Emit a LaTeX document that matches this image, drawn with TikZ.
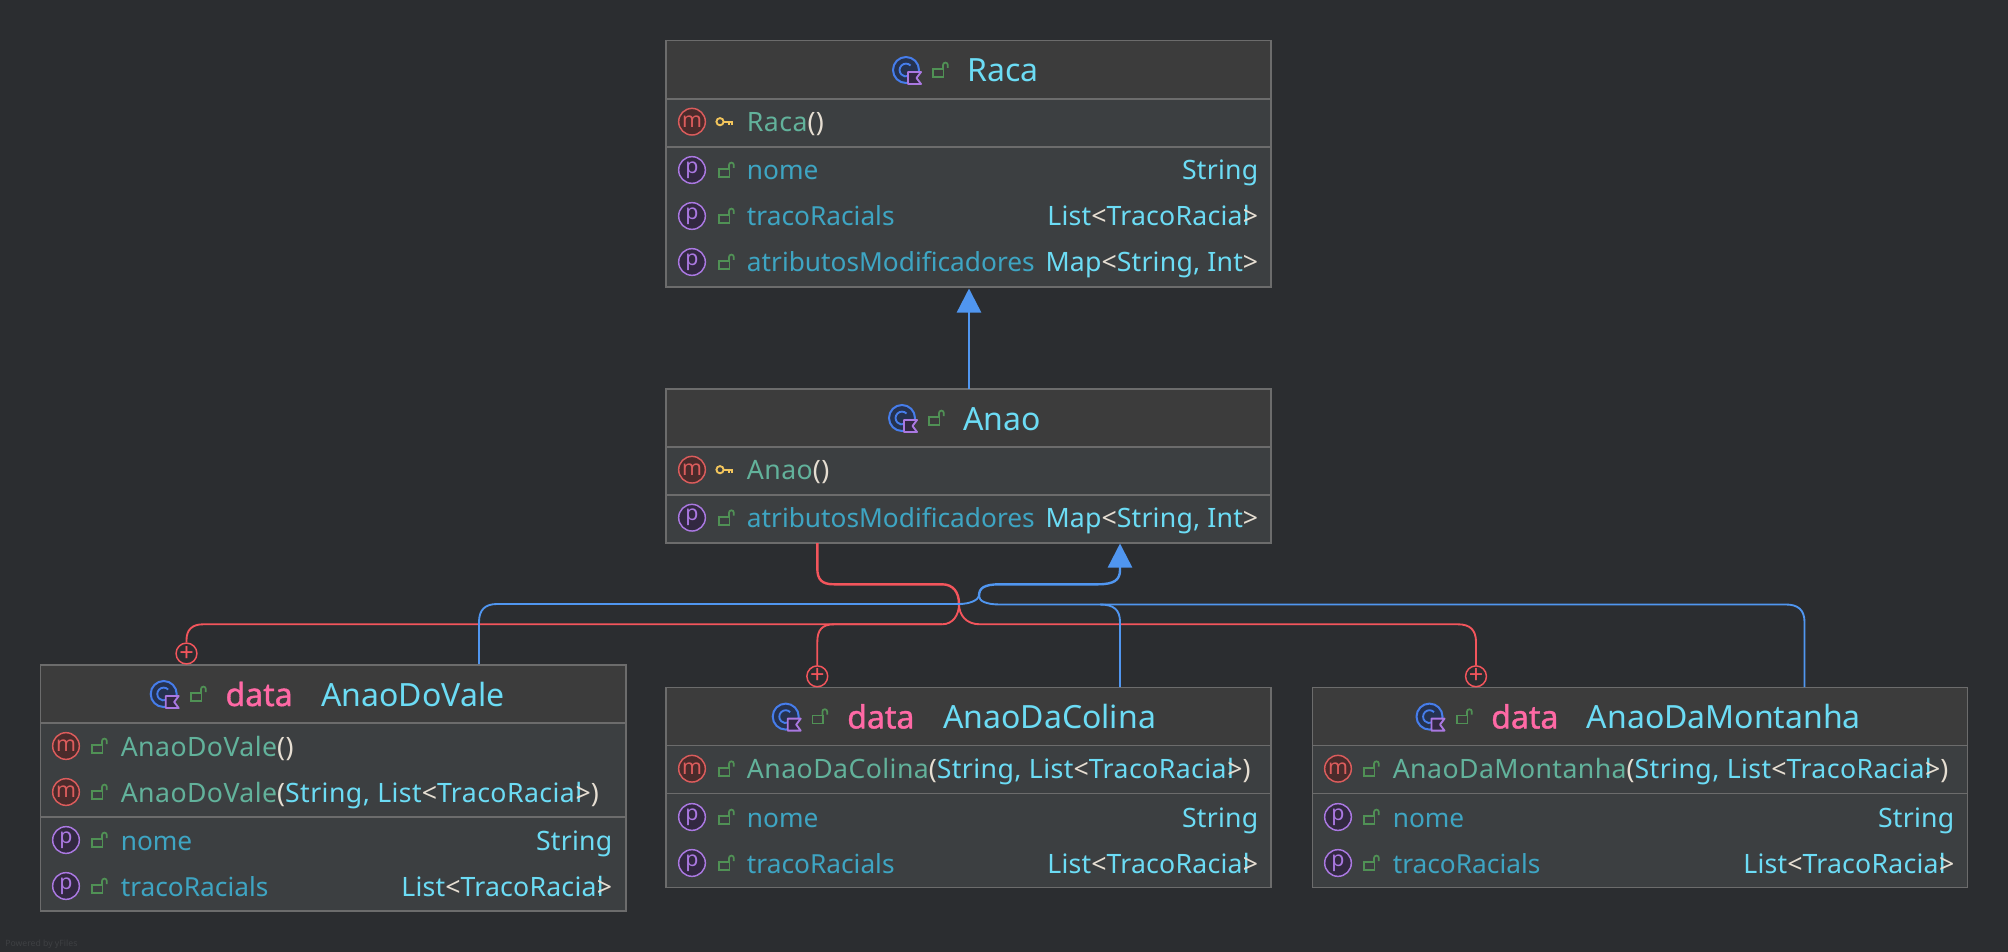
\documentclass[tikz,border=0pt]{standalone}
\usepackage{fontspec}
\setmainfont{Noto Sans}
\newfontfamily\dataface{Noto Sans}[FakeBold=1.2]
\newfontfamily\methface{Noto Sans}[LetterSpace=1.6]
\newfontfamily\typeface{Noto Sans}[LetterSpace=0.8]
\usepackage{xcolor}
\definecolor{bgdark}{RGB}{43,45,48}
\definecolor{headfill}{RGB}{60,60,60}
\definecolor{bodyfill}{RGB}{60,63,65}
\definecolor{boxline}{RGB}{108,108,108}
\definecolor{titlecol}{RGB}{108,220,245}
\definecolor{fieldcol}{RGB}{62,165,195}
\definecolor{methcol}{RGB}{98,178,155}
\definecolor{punctcol}{RGB}{230,222,210}
\definecolor{datacol}{RGB}{255,105,165}
\definecolor{redline}{RGB}{243,85,92}
\definecolor{blueline}{RGB}{80,150,240}
\definecolor{greenlock}{RGB}{80,145,85}
\definecolor{keycol}{RGB}{242,197,92}
\definecolor{purplecol}{RGB}{170,120,225}
\definecolor{classblue}{RGB}{70,125,235}
\definecolor{faintcol}{RGB}{62,64,67}
\definecolor{mstroke}{RGB}{219,92,92}
\definecolor{mfill}{RGB}{74,43,43}
\definecolor{pfill}{RGB}{50,40,65}
\definecolor{cfill}{RGB}{37,50,80}
\usetikzlibrary{arrows.meta}
\newcommand{\lstTraco}{List\textcolor{punctcol}{<}TracoRacia{l}\kern-0.25em\textcolor{punctcol}{>}}
\newcommand{\mapType}{Map\textcolor{punctcol}{<}String, Int\textcolor{punctcol}{>}}
\tikzset{
  headbox/.style={draw=boxline,fill=headfill,line width=1.2pt,anchor=north west,inner sep=0pt,outer sep=0pt},
  bodybox/.style={draw=boxline,fill=bodyfill,line width=1.2pt,anchor=north west,inner sep=0pt,outer sep=0pt},
  titletext/.style={anchor=base west,inner sep=0pt,text=titlecol,font=\fontsize{24}{24}\selectfont},
  datatext/.style={anchor=base west,inner sep=0pt,text=datacol,font=\fontsize{24}{24}\dataface},
  fieldtext/.style={anchor=base west,inner sep=0pt,text=fieldcol,font=\fontsize{19.7}{20}\selectfont},
  methtext/.style={anchor=base west,inner sep=0pt,text=methcol,font=\fontsize{20}{20}\methface},
  typetext/.style={anchor=base east,inner sep=0pt,text=titlecol,font=\fontsize{20}{20}\typeface},
  iconm/.style={circle,draw=mstroke,fill=mfill,text=mstroke,line width=1.1pt,minimum size=20pt,inner sep=0pt,font=\fontsize{16}{16}\selectfont},
  iconp/.style={circle,draw=purplecol,fill=pfill,text=purplecol,line width=1.1pt,minimum size=20pt,inner sep=0pt,font=\fontsize{16}{16}\selectfont},
  iconplus/.style={circle,draw=redline,line width=1.1pt,minimum size=15.5pt,inner sep=0pt,text=redline,font=\fontsize{19}{19}\selectfont},
  redpath/.style={draw=redline,line width=1.8pt},
  bluepath/.style={draw=blueline,line width=1.8pt},
  bustrack/.style={line width=1.4pt},
  pics/lock/.style={code={
    \draw[yscale=-1,greenlock,line width=1.3pt] (-7,-1) rectangle (3.5,7);
    \draw[yscale=-1,greenlock,line width=1.3pt] (3,-1) -- (3,-5) arc[start angle=180,end angle=360,radius=2.4] -- (7.8,-2);
  }},
  pics/keyicon/.style={code={
    \draw[yscale=-1,keycol,line width=1.4pt] (-4,0) circle (3.6);
    \draw[yscale=-1,keycol,line width=1.4pt] (-0.4,0) -- (8.5,0) (5,0) -- (5,3) (8,0) -- (8,3);
  }},
  pics/classicon/.style={code={
    \draw[classblue,fill=cfill,line width=1.5pt] (0,0) circle (13);
    \draw[yscale=-1,classblue,line width=1.4pt] (4.5,-4.5) arc[start angle=-45,delta angle=-250,radius=6.4];
    \fill[yscale=-1,headfill] (1,1) rectangle (15,15);
    \draw[yscale=-1,purplecol,fill=pfill,line width=1.4pt,line join=round] (2,2) -- (15,2) -- (10.5,8) -- (15,14) -- (2,14) -- cycle;
  }}
}
\begin{document}
\begin{tikzpicture}[x=0.75pt,y=0.75pt,yscale=-1,xscale=1]
\useasboundingbox[fill=bgdark] (0,0) rectangle (2008,952);

% Raca
\node[headbox,minimum width=453.8pt,minimum height=43.7pt] (racaHead) at (666,40.7) {};
\node[bodybox,minimum width=453.8pt,minimum height=36pt] (racaCtor) at (666,99) {};
\node[bodybox,minimum width=453.8pt,minimum height=105pt] (racaProps) at (666,147) {};
\pic at (906,70) {classicon};
\pic at (940,70) {lock};
\node[titletext] (racaTitle) at (967.5,81.7) {Raca};
\node[iconm] (racaM) at (692,121.7) {m};
\pic at (724,121.7) {keyicon};
\node[methtext] (racaCtorText) at (746.7,131.7) {Raca\textcolor{punctcol}{()}};
\node[iconp] (racaP1) at (692,170) {p};
\pic at (726,170) {lock};
\node[fieldtext] (racaNome) at (746.7,180) {nome};
\node[typetext] (racaNomeT) at (1258.5,180) {String};
\node[iconp] (racaP2) at (692,216) {p};
\pic at (726,216) {lock};
\node[fieldtext] (racaTraco) at (746.7,226) {tracoRacials};
\node[typetext] (racaTracoT) at (1258.5,226) {\lstTraco};
\node[iconp] (racaP3) at (692,262) {p};
\pic at (726,262) {lock};
\node[fieldtext] (racaAtrib) at (746.7,272) {atributosModificadores};
\node[typetext] (racaAtribT) at (1258.5,272) {\mapType};

% Anao
\node[headbox,minimum width=453.8pt,minimum height=43.7pt] (anaoHead) at (666,388.7) {};
\node[bodybox,minimum width=453.8pt,minimum height=36pt] (anaoCtor) at (666,447) {};
\node[bodybox,minimum width=453.8pt,minimum height=36pt] (anaoProps) at (666,495) {};
\pic at (902,418) {classicon};
\pic at (936,418) {lock};
\node[titletext] (anaoTitle) at (963,430) {Anao};
\node[iconm] (anaoM) at (692,469.7) {m};
\pic at (724,469.7) {keyicon};
\node[methtext] (anaoCtorText) at (746.7,479.7) {Anao\textcolor{punctcol}{()}};
\node[iconp] (anaoP1) at (692,517.7) {p};
\pic at (726,517.7) {lock};
\node[fieldtext] (anaoAtrib) at (746.7,527.7) {atributosModificadores};
\node[typetext] (anaoAtribT) at (1258.5,527.7) {\mapType};

% AnaoDoVale
\node[headbox,minimum width=439pt,minimum height=43.7pt] (valeHead) at (40.4,664.7) {};
\node[bodybox,minimum width=439pt,minimum height=70.5pt] (valeCtor) at (40.4,723) {};
\node[bodybox,minimum width=439pt,minimum height=70.5pt] (valeProps) at (40.4,817) {};
\pic at (163.7,694) {classicon};
\pic at (198,694) {lock};
\node[datatext] (valeData) at (225.3,706) {data};
\node[titletext] (valeTitle) at (321,706) {AnaoDoVale};
\node[iconm] (valeM1) at (66,746) {m};
\pic at (99,746) {lock};
\node[methtext] (valeCtor1) at (120.5,756) {AnaoDoVale\textcolor{punctcol}{()}};
\node[iconm] (valeM2) at (66,792) {m};
\pic at (99,792) {lock};
\node[methtext] (valeCtor2) at (120.5,802) {AnaoDoVale\textcolor{punctcol}{(}\textcolor{titlecol}{String, \lstTraco}\textcolor{punctcol}{)}};
\node[iconp] (valeP1) at (66,840) {p};
\pic at (99,840) {lock};
\node[fieldtext] (valeNome) at (120.5,850) {nome};
\node[typetext] (valeNomeT) at (612.5,850) {String};
\node[iconp] (valeP2) at (66,886) {p};
\pic at (99,886) {lock};
\node[fieldtext] (valeTraco) at (120.5,896) {tracoRacials};
\node[typetext] (valeTracoT) at (612.5,896) {\lstTraco};

% AnaoDaColina
\node[headbox,minimum width=453.8pt,minimum height=43.7pt] (colinaHead) at (666,687.3) {};
\node[bodybox,minimum width=453.8pt,minimum height=36pt] (colinaCtor) at (666,745.6) {};
\node[bodybox,minimum width=453.8pt,minimum height=70.5pt] (colinaProps) at (666,793.6) {};
\pic at (785.7,716.6) {classicon};
\pic at (819.4,716.6) {lock};
\node[datatext] (colinaData) at (847,728.4) {data};
\node[titletext] (colinaTitle) at (943,728.4) {AnaoDaColina};
\node[iconm] (colinaM) at (692,768.7) {m};
\pic at (726,768.7) {lock};
\node[methtext] (colinaCtor1) at (746.7,778.7) {AnaoDaColina\textcolor{punctcol}{(}\textcolor{titlecol}{String, \lstTraco}\textcolor{punctcol}{)}};
\node[iconp] (colinaP1) at (692,817) {p};
\pic at (726,817) {lock};
\node[fieldtext] (colinaNome) at (746.7,827) {nome};
\node[typetext] (colinaNomeT) at (1258.5,827) {String};
\node[iconp] (colinaP2) at (692,863) {p};
\pic at (726,863) {lock};
\node[fieldtext] (colinaTraco) at (746.7,873) {tracoRacials};
\node[typetext] (colinaTracoT) at (1258.5,873) {\lstTraco};

% AnaoDaMontanha
\node[headbox,minimum width=491.2pt,minimum height=43.7pt] (montHead) at (1312.5,687.3) {};
\node[bodybox,minimum width=491.2pt,minimum height=36pt] (montCtor) at (1312.5,745.6) {};
\node[bodybox,minimum width=491.2pt,minimum height=70.5pt] (montProps) at (1312.5,793.6) {};
\pic at (1429.5,716.6) {classicon};
\pic at (1464,716.6) {lock};
\node[datatext] (montData) at (1491,728.4) {data};
\node[titletext] (montTitle) at (1586.6,728.4) {AnaoDaMontanha};
\node[iconm] (montM) at (1338,768.7) {m};
\pic at (1371,768.7) {lock};
\node[methtext] (montCtor1) at (1392.5,778.7) {AnaoDaMontanha\textcolor{punctcol}{(}\textcolor{titlecol}{String, \lstTraco}\textcolor{punctcol}{)}};
\node[iconp] (montP1) at (1338,817) {p};
\pic at (1371,817) {lock};
\node[fieldtext] (montNome) at (1392.5,827) {nome};
\node[typetext] (montNomeT) at (1954.5,827) {String};
\node[iconp] (montP2) at (1338,863) {p};
\pic at (1371,863) {lock};
\node[fieldtext] (montTraco) at (1392.5,873) {tracoRacials};
\node[typetext] (montTracoT) at (1954.5,873) {\lstTraco};

% Plus circles
\node[iconplus] (plusVale) at (186.5,653.5) {+};
\node[iconplus] (plusColina) at (817.3,676.3) {+};
\node[iconplus] (plusMont) at (1476,676.3) {+};

% Watermark
\node[anchor=base west,inner sep=0pt,text=faintcol,font=\fontsize{6.5}{6.5}\selectfont\bfseries] (poweredBy) at (5,946) {Powered by yFiles};

% Free ends
\coordinate (racaIn) at (969,288.5);
\coordinate (anaoIn) at (969,388.7);
\coordinate (hubMid) at (959,604);
\coordinate (tipAnao) at (1120,543.5);
\coordinate (valeTop) at (479,664);
\coordinate (colinaTop) at (1120,687);
\coordinate (montTop) at (1804.5,687);
\coordinate (anaoOut) at (817.3,543);

% Raca to Anao
\draw[bluepath,-{Triangle[length=18pt,width=18pt]}] (anaoIn) -- (racaIn);

% Red connectors
\draw[redpath] (anaoOut) -- (817.3,568) .. controls (817.3,580) and (822,584.3) .. (834,584.3) -- (942,584.3) .. controls (953,584.3) and (959,592) .. (hubMid);
\draw[redpath,bustrack] (hubMid) .. controls (959,615) and (953,624.3) .. (942,624.3) -- (203,624.3) .. controls (192,624.3) and (186.5,630) .. (186.5,640) -- (plusVale.north);
\draw[redpath,bustrack] (942,624.3) -- (834,624.3) .. controls (822,624.3) and (817.3,630) .. (817.3,642) -- (plusColina.north);
\draw[redpath,bustrack] (hubMid) .. controls (959,615) and (966,624.3) .. (980,624.3) -- (1458,624.3) .. controls (1470,624.3) and (1476,630) .. (1476,642) -- (plusMont.north);

% Blue connectors
\draw[bluepath,-{Triangle[length=18pt,width=18pt]}] (979,596) .. controls (979,588) and (984,584.3) .. (1000,584.3) -- (1098,584.3) .. controls (1114,584.3) and (1120,580) .. (1120,570) -- (tipAnao);
\draw[bluepath,bustrack] (979,596) .. controls (978,600) and (970,604) .. (hubMid) -- (497,604) .. controls (485,604) and (479,610) .. (479,622) -- (valeTop);
\draw[bluepath,bustrack] (979,596) .. controls (979,601) and (986,604.5) .. (1000,604.5) -- (1100,604.5) .. controls (1114,604.5) and (1120,610) .. (1120,622) -- (colinaTop);
\draw[bluepath,bustrack] (1100,604.5) -- (1786,604.5) .. controls (1798,604.5) and (1804.5,610) .. (1804.5,622) -- (montTop);

\end{tikzpicture}
\end{document}
